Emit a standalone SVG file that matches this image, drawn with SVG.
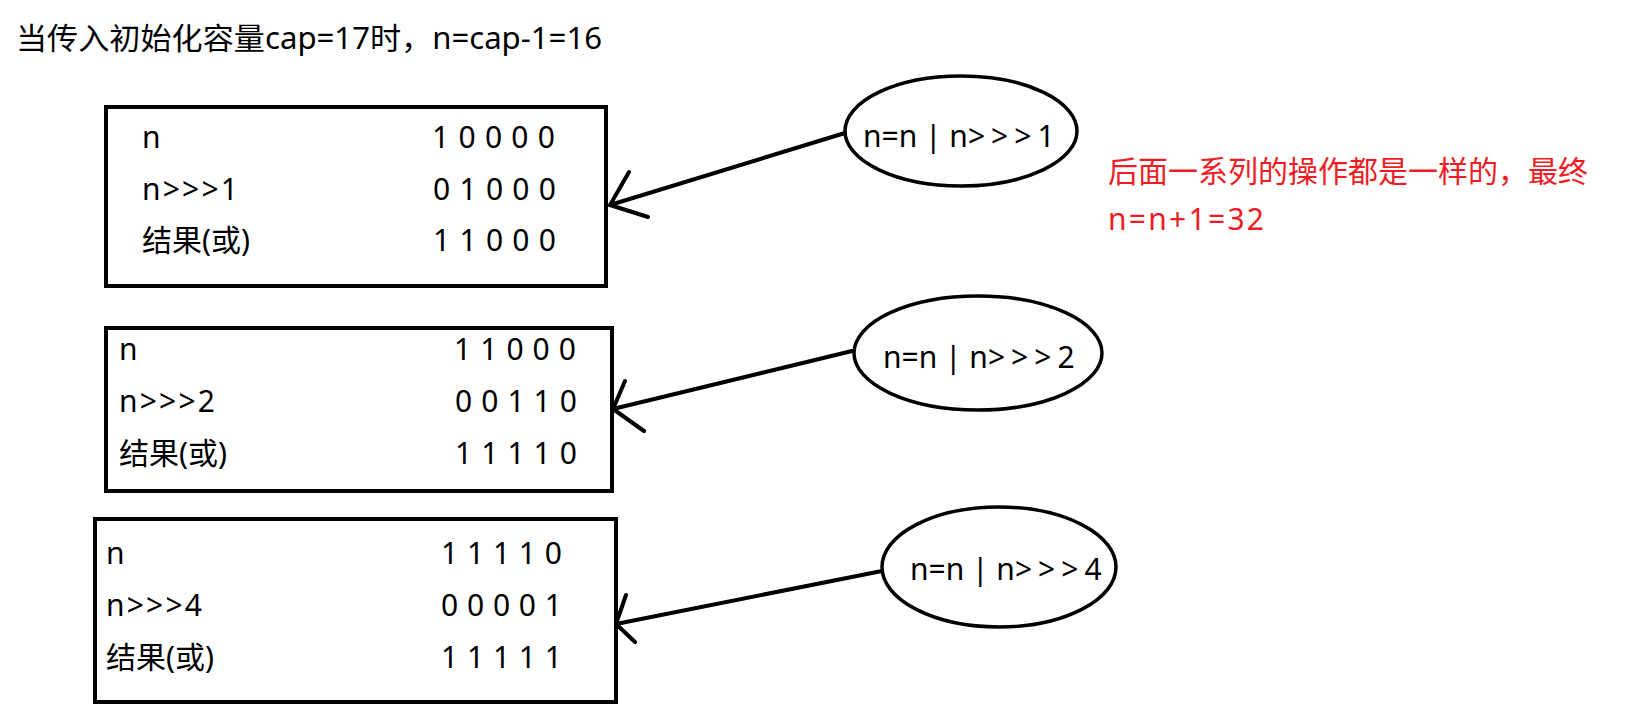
<svg xmlns="http://www.w3.org/2000/svg" width="1627" height="708" viewBox="0 0 1627 708">
<style>
text{font-family:"Noto Sans","Noto Sans CJK SC",sans-serif;font-size:30px;fill:#000}
.red{fill:#ee1c25}
.box{fill:#fff;stroke:#000;stroke-width:4}
.ell{fill:#fff;stroke:#000;stroke-width:3.5}
.conn{stroke:#000;stroke-width:4;fill:none;stroke-linecap:round}
.sp{letter-spacing:6px}
</style>
<rect width="1627" height="708" fill="#fff"/>
<text x="16" y="49" textLength="586" lengthAdjust="spacingAndGlyphs">当传入初始化容量cap=17时，n=cap-1=16</text>
<g id="box1">
<rect class="box" x="106" y="107" width="500" height="179"/>
<text x="142" y="148">n</text>
<text x="142" y="200" textLength="96" lengthAdjust="spacing">n&gt;&gt;&gt;1</text>
<text x="142" y="251" textLength="108" lengthAdjust="spacingAndGlyphs">结果(或)</text>
<text x="432" y="148" textLength="123" lengthAdjust="spacing">1 0 0 0 0</text>
<text x="433" y="200" textLength="123" lengthAdjust="spacing">0 1 0 0 0</text>
<text x="433" y="251" textLength="123" lengthAdjust="spacing">1 1 0 0 0</text>
</g>
<g id="box2">
<rect class="box" x="106" y="328" width="506" height="163"/>
<text x="119" y="360">n</text>
<text x="119" y="412" textLength="96" lengthAdjust="spacing">n&gt;&gt;&gt;2</text>
<text x="119" y="464" textLength="108" lengthAdjust="spacingAndGlyphs">结果(或)</text>
<text x="454" y="360" textLength="122" lengthAdjust="spacing">1 1 0 0 0</text>
<text x="455" y="412" textLength="122" lengthAdjust="spacing">0 0 1 1 0</text>
<text x="455" y="464" textLength="122" lengthAdjust="spacing">1 1 1 1 0</text>
</g>
<g id="box3">
<rect class="box" x="95" y="519" width="521" height="183"/>
<text x="106" y="564">n</text>
<text x="106" y="616" textLength="96" lengthAdjust="spacing">n&gt;&gt;&gt;4</text>
<text x="106" y="668" textLength="108" lengthAdjust="spacingAndGlyphs">结果(或)</text>
<text x="441" y="564" textLength="121" lengthAdjust="spacing">1 1 1 1 0</text>
<text x="441" y="616" textLength="121" lengthAdjust="spacing">0 0 0 0 1</text>
<text x="441" y="668" textLength="121" lengthAdjust="spacing">1 1 1 1 1</text>
</g>
<g id="op1">
<ellipse class="ell" cx="961" cy="131" rx="116" ry="55"/>
<text x="863" y="147">n=n | n<tspan class="sp">&gt;&gt;&gt;</tspan>1</text>
</g>
<g id="op2">
<ellipse class="ell" cx="978" cy="353" rx="124" ry="57"/>
<text x="883" y="368">n=n | n<tspan class="sp">&gt;&gt;&gt;</tspan>2</text>
</g>
<g id="op3">
<ellipse class="ell" cx="999" cy="567" rx="117" ry="60"/>
<text x="910" y="580">n=n | n<tspan class="sp">&gt;&gt;&gt;</tspan>4</text>
</g>
<g id="note">
<text class="red" x="1108" y="182" textLength="480" lengthAdjust="spacingAndGlyphs">后面一系列的操作都是一样的，最终</text>
<text class="red" x="1108" y="230" textLength="156" lengthAdjust="spacing">n=n+1=32</text>
</g>
<g id="connectors">
<path class="conn" d="M845 133 L610 205 M629 172 L610 205 L648 217"/>
<path class="conn" d="M852 351 L613 409 M625 381 L613 409 L644 431"/>
<path class="conn" d="M882 571 L616 624 M626 595 L616 624 L635 642"/>
</g>
</svg>
